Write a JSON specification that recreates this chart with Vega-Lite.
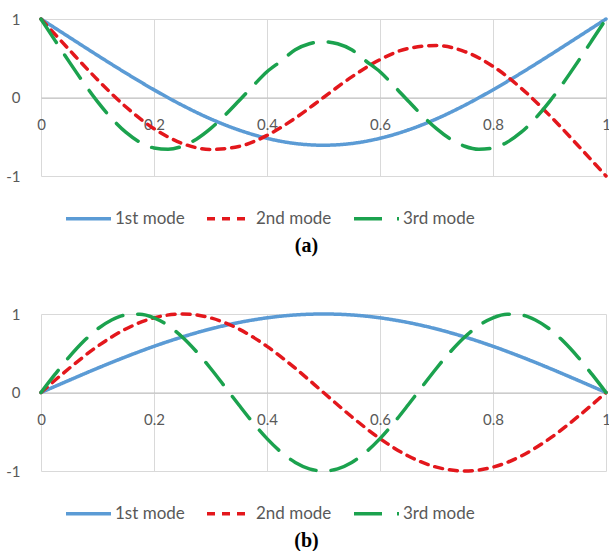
{
  "$schema": "https://vega.github.io/schema/vega-lite/v6.json",
  "background": "white",
  "padding": {"left": 5, "top": 12, "right": 0, "bottom": 0},
  "autosize": {"type": "pad"},
  "bounds": "flush",
  "spacing": 138,
  "config": {
    "view": {"stroke": null},
    "font": "Lato",
    "axis": {
      "labelFont": "Lato",
      "labelFontSize": 15,
      "labelColor": "#595959",
      "gridColor": "#d9d9d9",
      "gridWidth": 1,
      "ticks": false,
      "tickSize": 0,
      "title": null,
      "labelFlush": false,
      "labelOverlap": false
    },
    "legend": {
      "orient": "none",
      "legendX": 23,
      "legendY": 175,
      "direction": "horizontal",
      "title": null,
      "symbolType": "stroke",
      "symbolSize": 2025,
      "symbolStrokeWidth": 3.5,
      "labelFont": "Lato",
      "labelFontSize": 17,
      "labelColor": "#595959",
      "labelOffset": 2,
      "columnPadding": 15
    }
  },
  "datasets": {
    "a": [
      {"x": 0, "y": 1, "mode": "1st mode"},
      {"x": 0.05, "y": 0.768, "mode": "1st mode"},
      {"x": 0.1, "y": 0.537, "mode": "1st mode"},
      {"x": 0.15, "y": 0.312, "mode": "1st mode"},
      {"x": 0.2, "y": 0.098, "mode": "1st mode"},
      {"x": 0.25, "y": -0.099, "mode": "1st mode"},
      {"x": 0.3, "y": -0.272, "mode": "1st mode"},
      {"x": 0.35, "y": -0.414, "mode": "1st mode"},
      {"x": 0.4, "y": -0.52, "mode": "1st mode"},
      {"x": 0.45, "y": -0.586, "mode": "1st mode"},
      {"x": 0.5, "y": -0.608, "mode": "1st mode"},
      {"x": 0.55, "y": -0.586, "mode": "1st mode"},
      {"x": 0.6, "y": -0.52, "mode": "1st mode"},
      {"x": 0.65, "y": -0.414, "mode": "1st mode"},
      {"x": 0.7, "y": -0.272, "mode": "1st mode"},
      {"x": 0.75, "y": -0.099, "mode": "1st mode"},
      {"x": 0.8, "y": 0.098, "mode": "1st mode"},
      {"x": 0.85, "y": 0.312, "mode": "1st mode"},
      {"x": 0.9, "y": 0.537, "mode": "1st mode"},
      {"x": 0.95, "y": 0.768, "mode": "1st mode"},
      {"x": 1, "y": 1, "mode": "1st mode"},
      {"x": 0, "y": 1, "mode": "2nd mode"},
      {"x": 0.05, "y": 0.608, "mode": "2nd mode"},
      {"x": 0.1, "y": 0.227, "mode": "2nd mode"},
      {"x": 0.15, "y": -0.118, "mode": "2nd mode"},
      {"x": 0.2, "y": -0.397, "mode": "2nd mode"},
      {"x": 0.25, "y": -0.585, "mode": "2nd mode"},
      {"x": 0.3, "y": -0.662, "mode": "2nd mode"},
      {"x": 0.35, "y": -0.625, "mode": "2nd mode"},
      {"x": 0.4, "y": -0.483, "mode": "2nd mode"},
      {"x": 0.45, "y": -0.263, "mode": "2nd mode"},
      {"x": 0.5, "y": 0, "mode": "2nd mode"},
      {"x": 0.55, "y": 0.263, "mode": "2nd mode"},
      {"x": 0.6, "y": 0.483, "mode": "2nd mode"},
      {"x": 0.65, "y": 0.625, "mode": "2nd mode"},
      {"x": 0.7, "y": 0.662, "mode": "2nd mode"},
      {"x": 0.75, "y": 0.585, "mode": "2nd mode"},
      {"x": 0.8, "y": 0.397, "mode": "2nd mode"},
      {"x": 0.85, "y": 0.118, "mode": "2nd mode"},
      {"x": 0.9, "y": -0.227, "mode": "2nd mode"},
      {"x": 0.95, "y": -0.608, "mode": "2nd mode"},
      {"x": 1, "y": -1, "mode": "2nd mode"},
      {"x": 0, "y": 1, "mode": "3rd mode"},
      {"x": 0.025, "y": 0.725, "mode": "3rd mode"},
      {"x": 0.05, "y": 0.454, "mode": "3rd mode"},
      {"x": 0.075, "y": 0.192, "mode": "3rd mode"},
      {"x": 0.1, "y": -0.052, "mode": "3rd mode"},
      {"x": 0.125, "y": -0.266, "mode": "3rd mode"},
      {"x": 0.15, "y": -0.442, "mode": "3rd mode"},
      {"x": 0.175, "y": -0.569, "mode": "3rd mode"},
      {"x": 0.2, "y": -0.643, "mode": "3rd mode"},
      {"x": 0.225, "y": -0.66, "mode": "3rd mode"},
      {"x": 0.25, "y": -0.621, "mode": "3rd mode"},
      {"x": 0.275, "y": -0.531, "mode": "3rd mode"},
      {"x": 0.3, "y": -0.397, "mode": "3rd mode"},
      {"x": 0.325, "y": -0.231, "mode": "3rd mode"},
      {"x": 0.35, "y": -0.045, "mode": "3rd mode"},
      {"x": 0.375, "y": 0.146, "mode": "3rd mode"},
      {"x": 0.4, "y": 0.328, "mode": "3rd mode"},
      {"x": 0.425, "y": 0.465, "mode": "3rd mode"},
      {"x": 0.45, "y": 0.608, "mode": "3rd mode"},
      {"x": 0.475, "y": 0.685, "mode": "3rd mode"},
      {"x": 0.5, "y": 0.711, "mode": "3rd mode"},
      {"x": 0.525, "y": 0.685, "mode": "3rd mode"},
      {"x": 0.55, "y": 0.608, "mode": "3rd mode"},
      {"x": 0.575, "y": 0.465, "mode": "3rd mode"},
      {"x": 0.6, "y": 0.328, "mode": "3rd mode"},
      {"x": 0.625, "y": 0.146, "mode": "3rd mode"},
      {"x": 0.65, "y": -0.045, "mode": "3rd mode"},
      {"x": 0.675, "y": -0.231, "mode": "3rd mode"},
      {"x": 0.7, "y": -0.397, "mode": "3rd mode"},
      {"x": 0.725, "y": -0.531, "mode": "3rd mode"},
      {"x": 0.75, "y": -0.621, "mode": "3rd mode"},
      {"x": 0.775, "y": -0.66, "mode": "3rd mode"},
      {"x": 0.8, "y": -0.643, "mode": "3rd mode"},
      {"x": 0.825, "y": -0.569, "mode": "3rd mode"},
      {"x": 0.85, "y": -0.442, "mode": "3rd mode"},
      {"x": 0.875, "y": -0.266, "mode": "3rd mode"},
      {"x": 0.9, "y": -0.052, "mode": "3rd mode"},
      {"x": 0.925, "y": 0.192, "mode": "3rd mode"},
      {"x": 0.95, "y": 0.454, "mode": "3rd mode"},
      {"x": 0.975, "y": 0.725, "mode": "3rd mode"},
      {"x": 1, "y": 1, "mode": "3rd mode"}
    ],
    "b": [
      {"x": 0, "y": 0, "mode": "1st mode"},
      {"x": 0.05, "y": 0.156, "mode": "1st mode"},
      {"x": 0.1, "y": 0.309, "mode": "1st mode"},
      {"x": 0.15, "y": 0.454, "mode": "1st mode"},
      {"x": 0.2, "y": 0.588, "mode": "1st mode"},
      {"x": 0.25, "y": 0.707, "mode": "1st mode"},
      {"x": 0.3, "y": 0.809, "mode": "1st mode"},
      {"x": 0.35, "y": 0.891, "mode": "1st mode"},
      {"x": 0.4, "y": 0.951, "mode": "1st mode"},
      {"x": 0.45, "y": 0.988, "mode": "1st mode"},
      {"x": 0.5, "y": 1, "mode": "1st mode"},
      {"x": 0.55, "y": 0.988, "mode": "1st mode"},
      {"x": 0.6, "y": 0.951, "mode": "1st mode"},
      {"x": 0.65, "y": 0.891, "mode": "1st mode"},
      {"x": 0.7, "y": 0.809, "mode": "1st mode"},
      {"x": 0.75, "y": 0.707, "mode": "1st mode"},
      {"x": 0.8, "y": 0.588, "mode": "1st mode"},
      {"x": 0.85, "y": 0.454, "mode": "1st mode"},
      {"x": 0.9, "y": 0.309, "mode": "1st mode"},
      {"x": 0.95, "y": 0.156, "mode": "1st mode"},
      {"x": 1, "y": 0, "mode": "1st mode"},
      {"x": 0, "y": 0, "mode": "2nd mode"},
      {"x": 0.05, "y": 0.309, "mode": "2nd mode"},
      {"x": 0.1, "y": 0.588, "mode": "2nd mode"},
      {"x": 0.15, "y": 0.809, "mode": "2nd mode"},
      {"x": 0.2, "y": 0.951, "mode": "2nd mode"},
      {"x": 0.25, "y": 1, "mode": "2nd mode"},
      {"x": 0.3, "y": 0.951, "mode": "2nd mode"},
      {"x": 0.35, "y": 0.809, "mode": "2nd mode"},
      {"x": 0.4, "y": 0.588, "mode": "2nd mode"},
      {"x": 0.45, "y": 0.309, "mode": "2nd mode"},
      {"x": 0.5, "y": 0, "mode": "2nd mode"},
      {"x": 0.55, "y": -0.309, "mode": "2nd mode"},
      {"x": 0.6, "y": -0.588, "mode": "2nd mode"},
      {"x": 0.65, "y": -0.809, "mode": "2nd mode"},
      {"x": 0.7, "y": -0.951, "mode": "2nd mode"},
      {"x": 0.75, "y": -1, "mode": "2nd mode"},
      {"x": 0.8, "y": -0.951, "mode": "2nd mode"},
      {"x": 0.85, "y": -0.809, "mode": "2nd mode"},
      {"x": 0.9, "y": -0.588, "mode": "2nd mode"},
      {"x": 0.95, "y": -0.309, "mode": "2nd mode"},
      {"x": 1, "y": 0, "mode": "2nd mode"},
      {"x": 0, "y": 0, "mode": "3rd mode"},
      {"x": 0.025, "y": 0.233, "mode": "3rd mode"},
      {"x": 0.05, "y": 0.454, "mode": "3rd mode"},
      {"x": 0.075, "y": 0.649, "mode": "3rd mode"},
      {"x": 0.1, "y": 0.809, "mode": "3rd mode"},
      {"x": 0.125, "y": 0.924, "mode": "3rd mode"},
      {"x": 0.15, "y": 0.988, "mode": "3rd mode"},
      {"x": 0.175, "y": 0.997, "mode": "3rd mode"},
      {"x": 0.2, "y": 0.951, "mode": "3rd mode"},
      {"x": 0.225, "y": 0.853, "mode": "3rd mode"},
      {"x": 0.25, "y": 0.707, "mode": "3rd mode"},
      {"x": 0.275, "y": 0.522, "mode": "3rd mode"},
      {"x": 0.3, "y": 0.309, "mode": "3rd mode"},
      {"x": 0.325, "y": 0.078, "mode": "3rd mode"},
      {"x": 0.35, "y": -0.156, "mode": "3rd mode"},
      {"x": 0.375, "y": -0.383, "mode": "3rd mode"},
      {"x": 0.4, "y": -0.588, "mode": "3rd mode"},
      {"x": 0.425, "y": -0.76, "mode": "3rd mode"},
      {"x": 0.45, "y": -0.891, "mode": "3rd mode"},
      {"x": 0.475, "y": -0.972, "mode": "3rd mode"},
      {"x": 0.5, "y": -1, "mode": "3rd mode"},
      {"x": 0.525, "y": -0.972, "mode": "3rd mode"},
      {"x": 0.55, "y": -0.891, "mode": "3rd mode"},
      {"x": 0.575, "y": -0.76, "mode": "3rd mode"},
      {"x": 0.6, "y": -0.588, "mode": "3rd mode"},
      {"x": 0.625, "y": -0.383, "mode": "3rd mode"},
      {"x": 0.65, "y": -0.156, "mode": "3rd mode"},
      {"x": 0.675, "y": 0.078, "mode": "3rd mode"},
      {"x": 0.7, "y": 0.309, "mode": "3rd mode"},
      {"x": 0.725, "y": 0.522, "mode": "3rd mode"},
      {"x": 0.75, "y": 0.707, "mode": "3rd mode"},
      {"x": 0.775, "y": 0.853, "mode": "3rd mode"},
      {"x": 0.8, "y": 0.951, "mode": "3rd mode"},
      {"x": 0.825, "y": 0.997, "mode": "3rd mode"},
      {"x": 0.85, "y": 0.988, "mode": "3rd mode"},
      {"x": 0.875, "y": 0.924, "mode": "3rd mode"},
      {"x": 0.9, "y": 0.809, "mode": "3rd mode"},
      {"x": 0.925, "y": 0.649, "mode": "3rd mode"},
      {"x": 0.95, "y": 0.454, "mode": "3rd mode"},
      {"x": 0.975, "y": 0.233, "mode": "3rd mode"},
      {"x": 1, "y": 0, "mode": "3rd mode"}
    ]
  },
  "resolve": {
    "scale": {"color": "independent", "strokeDash": "independent"},
    "legend": {"color": "independent", "strokeDash": "independent"}
  },
  "vconcat": [
    {
      "width": 565,
      "height": 157,
      "data": {"name": "a"},
      "title": {"text": "(a)", "orient": "bottom", "font": "Liberation Serif", "fontSize": 20, "fontWeight": "bold", "color": "black", "offset": 9, "dx": -17},
      "mark": {"type": "line", "strokeWidth": 3.5, "interpolate": "monotone", "strokeCap": "round"},
      "encoding": {
        "x": {"field": "x", "type": "quantitative", "scale": {"domain": [0, 1], "nice": false},
          "axis": {"values": [0, 0.2, 0.4, 0.6, 0.8, 1], "format": "~g", "offset": -78.5, "grid": true, "domain": true, "domainColor": "#bfbfbf", "labelPadding": 20}},
        "y": {"field": "y", "type": "quantitative", "scale": {"domain": [-1, 1], "nice": false},
          "axis": {"values": [-1, 0, 1], "format": "~g", "labelExpr": "replace(datum.label, '\u2212', '-')", "grid": true, "domain": false, "labelPadding": 21}},
        "color": {"field": "mode", "type": "nominal", "scale": {"domain": ["1st mode", "2nd mode", "3rd mode"], "range": ["#5b9bd5", "#e3171c", "#1ba24e"]}},
        "strokeDash": {"field": "mode", "type": "nominal", "scale": {"domain": ["1st mode", "2nd mode", "3rd mode"], "range": [[1, 0], [8, 7], [28, 15]]}}
      }
    },
    {
      "width": 565,
      "height": 157,
      "data": {"name": "b"},
      "title": {"text": "(b)", "orient": "bottom", "font": "Liberation Serif", "fontSize": 20, "fontWeight": "bold", "color": "black", "offset": 9, "dx": -17},
      "mark": {"type": "line", "strokeWidth": 3.5, "interpolate": "monotone", "strokeCap": "round"},
      "encoding": {
        "x": {"field": "x", "type": "quantitative", "scale": {"domain": [0, 1], "nice": false},
          "axis": {"values": [0, 0.2, 0.4, 0.6, 0.8, 1], "format": "~g", "offset": -78.5, "grid": true, "domain": true, "domainColor": "#bfbfbf", "labelPadding": 20}},
        "y": {"field": "y", "type": "quantitative", "scale": {"domain": [-1, 1], "nice": false},
          "axis": {"values": [-1, 0, 1], "format": "~g", "labelExpr": "replace(datum.label, '\u2212', '-')", "grid": true, "domain": false, "labelPadding": 21}},
        "color": {"field": "mode", "type": "nominal", "scale": {"domain": ["1st mode", "2nd mode", "3rd mode"], "range": ["#5b9bd5", "#e3171c", "#1ba24e"]}},
        "strokeDash": {"field": "mode", "type": "nominal", "scale": {"domain": ["1st mode", "2nd mode", "3rd mode"], "range": [[1, 0], [8, 7], [28, 15]]}}
      }
    }
  ]
}
